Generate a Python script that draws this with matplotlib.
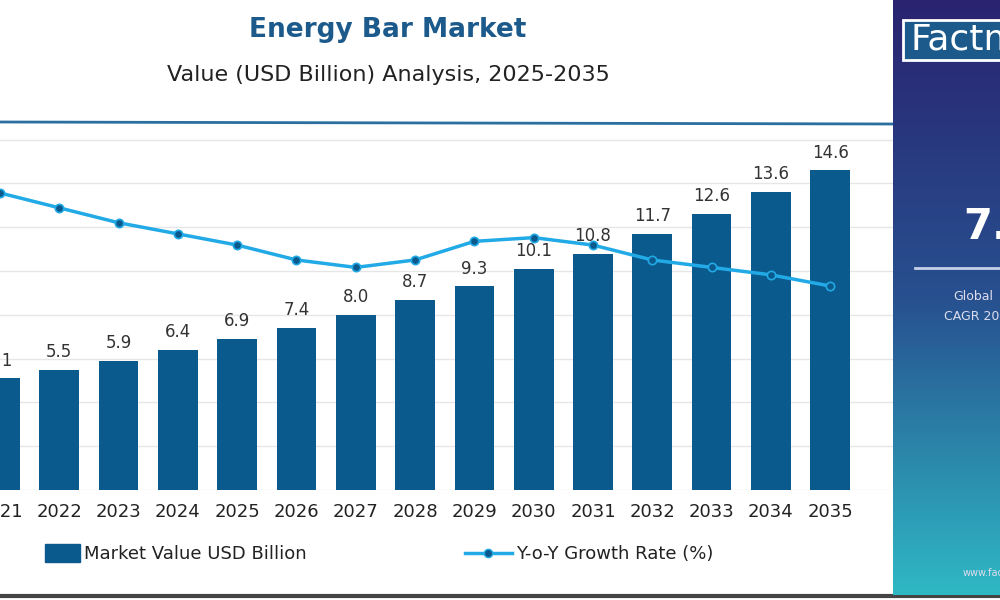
import matplotlib
matplotlib.use("Agg")
import matplotlib.pyplot as plt
import numpy as np
from matplotlib.colors import LinearSegmentedColormap

years = list(range(2021, 2036))
market_value = [5.1, 5.5, 5.9, 6.4, 6.9, 7.4, 8.0, 8.7, 9.3, 10.1, 10.8, 11.7, 12.6, 13.6, 14.6]
growth = [8.6, 8.2, 7.8, 7.5, 7.2, 6.8, 6.6, 6.8, 7.3, 7.4, 7.2, 6.8, 6.6, 6.4, 6.1]

W, H = 1000, 600
LINE = "#22aae6"
BAR = "#0b5a8e"
fig = plt.figure(figsize=(10, 6), dpi=100)
fig.patch.set_facecolor("white")

pos = [0, 1 - 490 / H, 893 / W, 370 / H]
ax = fig.add_axes(pos, zorder=1)
ax.set_xlim(2021, 2036.06)
ax.set_ylim(0, 16.9)
ax.set_yticks(np.arange(0, 17, 2))
ax.grid(axis="y", color="#e6e6e6", lw=1)
ax.set_axisbelow(True)
for s in ax.spines.values():
    s.set_visible(False)
ax.tick_params(left=False, bottom=False, labelleft=False, labelbottom=False)
ax.bar(years, market_value, width=0.67, color=BAR, zorder=2)
for x, v in zip(years, market_value):
    ax.text(x, v + 0.4, f"{v:.1f}", ha="center", va="bottom", fontsize=12, color="#333333")
for x in years:
    ax.text(x, -0.6, str(x), ha="center", va="top", fontsize=13, color="#222222", clip_on=False)

ax2 = fig.add_axes(pos, zorder=5)
ax2.patch.set_visible(False)
ax2.set_xlim(2021, 2036.06)
ax2.set_ylim(0.62, 10.56)
ax2.plot(years, growth, color=LINE, lw=2.5, marker="o", ms=6,
         mfc=BAR, mec=LINE, mew=1.2, zorder=5, clip_on=False)
ax2.axis("off")

fig.add_artist(plt.Line2D([0, 893 / W], [1 - 122 / H, 1 - 124 / H], color="#2a6f9f", lw=2))
fig.add_artist(plt.Line2D([0, 1], [1 - 596 / H] * 2, color="#444444", lw=3))

fig.text(388 / W, 1 - 30 / H, "Energy Bar Market", ha="center", va="center",
         fontsize=19, fontweight="bold", color="#1d5a8c")
fig.text(388 / W, 1 - 75 / H, "Value (USD Billion) Analysis, 2025-2035", ha="center",
         va="center", fontsize=16, color="#222222")

fig.patches.append(plt.Rectangle((45 / W, 1 - 562 / H), 35 / W, 18 / H,
                                 transform=fig.transFigure, color=BAR))
fig.text(84 / W, 1 - 554 / H, "Market Value USD Billion", va="center", fontsize=13, color="#222222")
fig.add_artist(plt.Line2D([465 / W, 512 / W], [1 - 553 / H] * 2, color=LINE, lw=2.5))
fig.add_artist(plt.Line2D([488 / W], [1 - 553 / H], color=LINE, marker="o", ms=6,
                          mfc=BAR, mec=LINE))
fig.text(516 / W, 1 - 554 / H, "Y-o-Y Growth Rate (%)", va="center", fontsize=13, color="#222222")

pax = fig.add_axes([893 / W, 5 / H, 107 / W, 595 / H], zorder=6)
grad = np.linspace(0, 1, 256).reshape(-1, 1)
cmap = LinearSegmentedColormap.from_list("p", ["#2a2370", "#27508f", "#2fb8c4"])
pax.imshow(grad, aspect="auto", cmap=cmap, extent=[0, 107, 595, 0])
pax.set_xlim(0, 107)
pax.set_ylim(595, 0)
pax.axis("off")
pax.add_patch(plt.Rectangle((10, 20), 110, 40, fill=True, facecolor="#1d5a8c",
                            edgecolor="white", lw=2))
pax.text(18, 40, "Factmr", color="white", fontsize=26, va="center", clip_on=True)
pax.text(70, 228, "7.5%", color="white", fontsize=30, fontweight="bold", va="center", clip_on=True)
pax.plot([22, 107], [268, 268], color="#c8d0e8", lw=2)
pax.text(60, 296, "Global", color="#dde", fontsize=9, va="center", clip_on=True)
pax.text(51, 316, "CAGR 2025", color="#dde", fontsize=9, va="center", clip_on=True)
pax.text(70, 573, "www.factmr.com", color="#dde", fontsize=7, va="center", clip_on=True)

fig.savefig("out.png", dpi=100)
